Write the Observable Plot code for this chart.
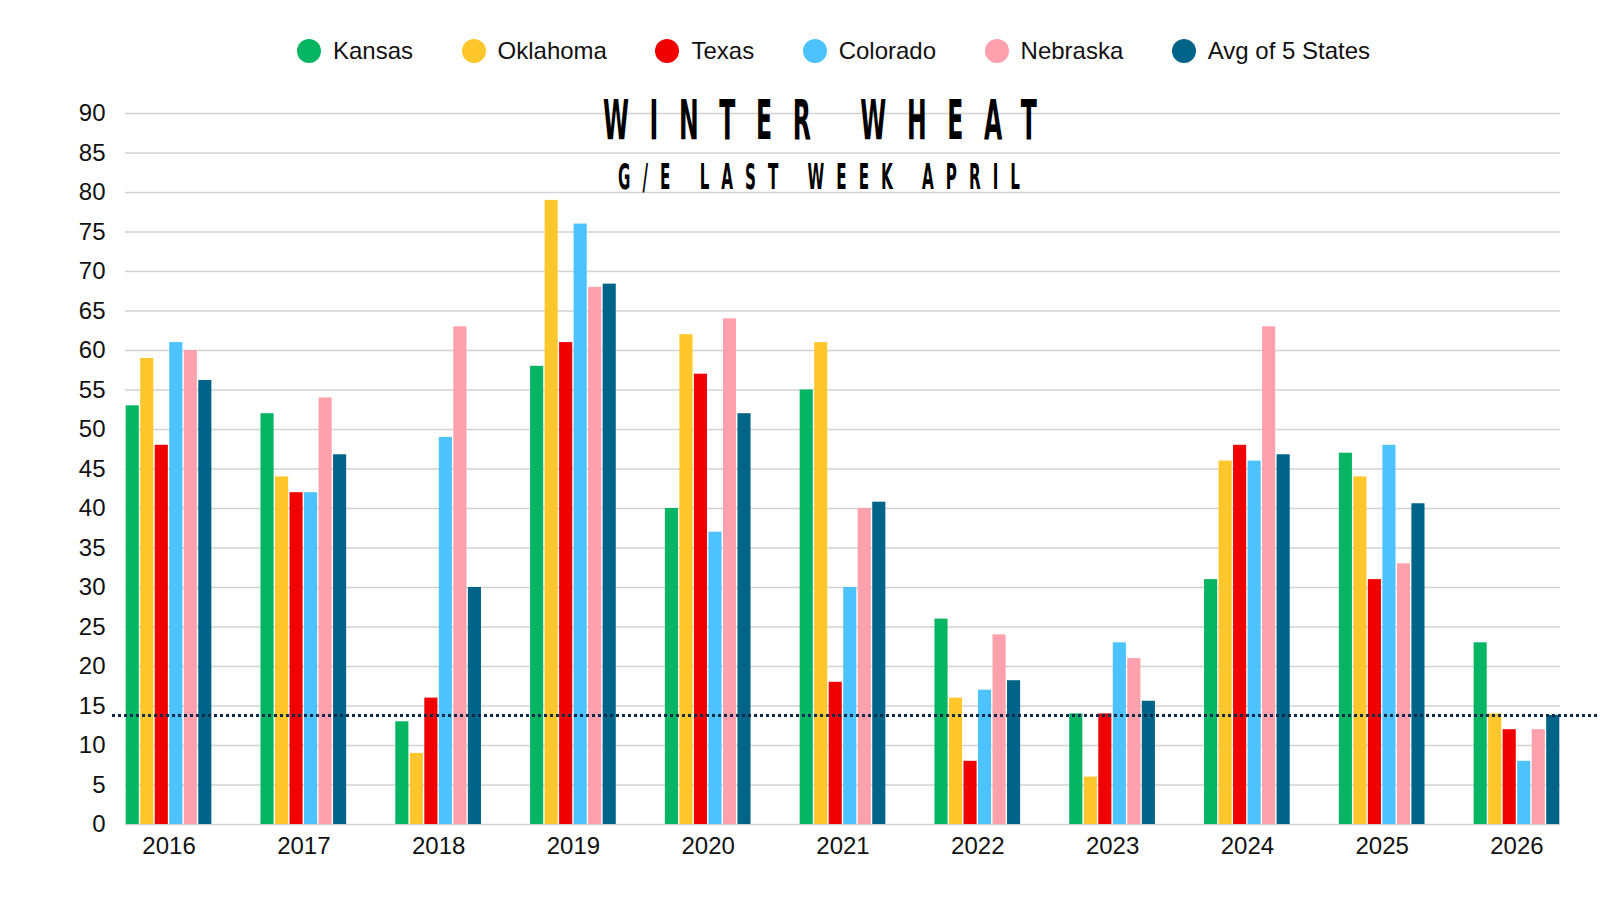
<!DOCTYPE html>
<html><head><meta charset="utf-8">
<script src="https://cdn.jsdelivr.net/npm/d3@7"></script>
<script src="https://cdn.jsdelivr.net/npm/@observablehq/plot@0.6"></script>
<style>
body{margin:0;background:#fff;}
#wrap{position:relative;width:1600px;height:900px;overflow:hidden;background:#fff;font-family:"Liberation Sans",Arial,sans-serif;}
#legend{position:absolute;top:37px;left:297px;height:28px;display:flex;align-items:center;gap:48.5px;font-size:24px;color:#111;white-space:nowrap;}
.item{display:flex;align-items:center;}
.sw{width:24px;height:24px;border-radius:50%;margin-right:12px;flex:none;}
#chart{position:absolute;top:90px;left:0;}
#titles{position:absolute;top:0;left:0;pointer-events:none;}
</style></head><body>
<div id="wrap"><div id="legend"></div><div id="chart"></div><svg id="titles" width="1600" height="900"></svg></div>
<script>
const years = ["2016","2017","2018","2019","2020","2021","2022","2023","2024","2025","2026"];
const kansas   = [53, 52, 13, 58, 40, 55, 26, 14, 31, 47, 23];
const oklahoma = [59, 44,  9, 79, 62, 61, 16,  6, 46, 44, 14];
const texas    = [48, 42, 16, 61, 57, 18,  8, 14, 48, 31, 12];
const colorado = [61, 42, 49, 76, 37, 30, 17, 23, 46, 48,  8];
const nebraska = [60, 54, 63, 68, 64, 40, 24, 21, 63, 33, 12];
const avg5     = [56.2, 46.8, 30, 68.4, 52, 40.8, 18.2, 15.6, 46.8, 40.6, 13.8];
const seriesNames = ["Kansas","Oklahoma","Texas","Colorado","Nebraska","Avg of 5 States"];
const seriesColors = ["#05b563","#ffc72c","#f00000","#4cc3ff","#ffa1ad","#006388"];
const referenceLine = 13.8;
const yTicks = d3.range(0, 95, 5);
const titleText = "WINTER WHEAT";
const subtitleText = "G/E LAST WEEK APRIL";

const seriesValues = [kansas, oklahoma, texas, colorado, nebraska, avg5];
const rows = years.map((y, i) => {
  const r = {year: y};
  seriesNames.forEach((s, j) => r[s] = seriesValues[j][i]);
  return r;
});

// legend
const leg = d3.select("#legend");
seriesNames.forEach((s, j) => {
  const it = leg.append("div").attr("class","item");
  it.append("div").attr("class","sw").style("background", seriesColors[j]);
  it.append("span").text(s);
});

// layout
const W = 1600, H = 810, mL = 125, mR = 40, mT = 23, mB = 76;
const padIn = 0.354;
const step = (W - mL - mR) / (years.length - padIn);
const bw = step * (1 - padIn);
const slot = bw / seriesNames.length;
const gap = 0.7;

const bars = seriesNames.map((s, j) => Plot.barY(rows, {
  x: "year", y: s, fill: seriesColors[j],
  insetLeft: j * slot + gap,
  insetRight: (seriesNames.length - 1 - j) * slot + gap
}));

const chart = Plot.plot({
  width: W, height: H,
  marginLeft: mL, marginRight: mR, marginTop: mT, marginBottom: mB,
  style: {fontFamily: "'Liberation Sans', Arial, sans-serif", fontSize: "24px", color: "#111", background: "transparent"},
  x: {type: "band", domain: years, paddingInner: padIn, paddingOuter: 0, round: false, label: null},
  y: {domain: [0, 90], label: null},
  marks: [
    Plot.gridY(yTicks, {stroke: "#d2d2d2", strokeOpacity: 1, strokeWidth: 1.4}),
    ...bars,
    Plot.ruleY([referenceLine], {stroke: "#102a4c", strokeWidth: 3, strokeDasharray: "3,3", insetLeft: -13, insetRight: -40}),
    Plot.axisY(yTicks, {tickSize: 0, tickPadding: 20, fontSize: 24, label: null}),
    Plot.axisX({tickSize: 0, tickPadding: 12, fontSize: 24, label: null})
  ]
});
document.getElementById("chart").appendChild(chart);

// titles
const tsvg = d3.select("#titles");
function fitTitle(str, size, baseline, targetWidth, centerX) {
  const fam = "'Liberation Sans Narrow','DejaVu Sans Condensed','DejaVu Sans',sans-serif";
  const g = tsvg.append("g");
  const t = g.append("text")
    .attr("font-family", fam)
    .attr("font-weight", "bold").attr("font-size", size)
    .attr("fill", "#000");
  const probe = g.append("text")
    .attr("font-family", fam)
    .attr("font-weight", "bold").attr("font-size", size).text("W");
  const wW = probe.node().getComputedTextLength();
  probe.remove();
  const sx = (26 * size / 56) / wW;
  t.text(str);
  const natural = t.node().getComputedTextLength();
  const n = str.length;
  const L = (targetWidth / sx - natural) / (n - 1);
  t.attr("letter-spacing", L);
  g.attr("transform", `translate(${centerX - targetWidth / 2},${baseline}) scale(${sx},1)`);
}
fitTitle(titleText, 56, 138.5, 434, 820);
fitTitle(subtitleText, 36, 189, 402, 819);
</script>
</body></html>
